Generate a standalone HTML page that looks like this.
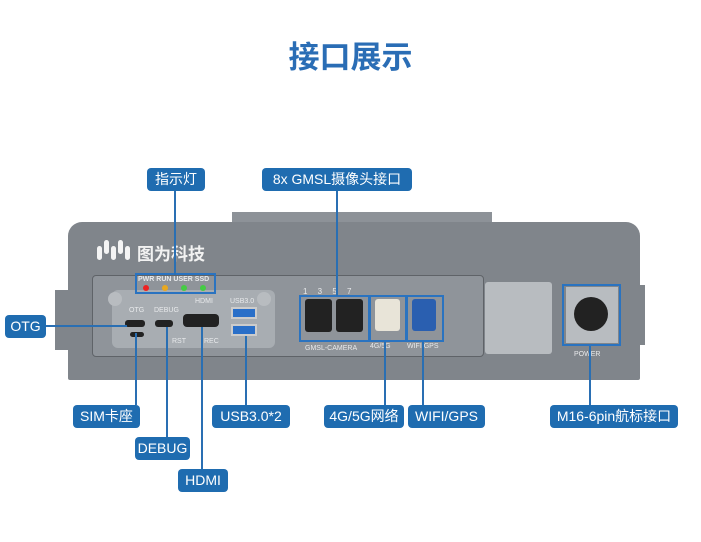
<!DOCTYPE html><html><head><meta charset="utf-8"><style>
body{margin:0;width:701px;height:542px;background:#fff;position:relative;overflow:hidden;font-family:"Liberation Sans","Noto Sans CJK SC",sans-serif}
div{position:absolute;box-sizing:border-box}
.lb{background:#1f6cb0;color:#fff;font-size:14px;border-radius:4px;text-align:center;line-height:23px;height:23px}
.vl{width:2px;background:#2a6fb3}
.bx{border:2px solid #2a73c0}
.t{color:#e8eaec;font-size:7px}
.port{background:#222;border-radius:3px}
.lg{width:5px;height:14px;background:#f4f4f4;border-radius:3px}
</style></head><body>
<div style="left:0;top:32px;width:701px;text-align:center;font-size:31px;font-weight:bold;color:#2a6db5">接口展示</div>
<div style="left:232px;top:212px;width:260px;height:22px;background:#8d9298"></div>
<div style="left:68px;top:222px;width:572px;height:158px;background:#80858b;border-radius:14px 14px 2px 2px"></div>
<div style="left:55px;top:290px;width:15px;height:60px;background:#80858b"></div>
<div style="left:635px;top:285px;width:10px;height:60px;background:#80858b"></div>
<div class="lg" style="left:97px;top:246px"></div>
<div class="lg" style="left:104px;top:240px"></div>
<div class="lg" style="left:111px;top:246px"></div>
<div class="lg" style="left:118px;top:240px"></div>
<div class="lg" style="left:125px;top:246px"></div>
<div style="left:137px;top:240px;color:#f2f2f2;font-size:17px;font-weight:bold">图为科技</div>
<div style="left:92px;top:275px;width:392px;height:82px;background:#8f949a;border:1px solid #5f6368;border-radius:4px"></div>
<div style="left:112px;top:290px;width:163px;height:58px;background:#a8adb2;border-radius:6px"></div>
<div style="left:108px;top:292px;width:14px;height:14px;border-radius:50%;background:#b8bcc0"></div>
<div style="left:257px;top:292px;width:14px;height:14px;border-radius:50%;background:#b8bcc0"></div>
<div class="t" style="left:138px;top:276px;font-weight:bold">PWR RUN USER SSD</div>
<div style="left:143px;top:285px;width:6px;height:6px;border-radius:50%;background:#e22"></div>
<div style="left:162px;top:285px;width:6px;height:6px;border-radius:50%;background:#e8a820"></div>
<div style="left:181px;top:285px;width:6px;height:6px;border-radius:50%;background:#4c4"></div>
<div style="left:200px;top:285px;width:6px;height:6px;border-radius:50%;background:#4c4"></div>
<div class="bx" style="left:135px;top:273px;width:81px;height:21px"></div>
<div class="t" style="left:129px;top:307px">OTG</div><div class="t" style="left:154px;top:307px">DEBUG</div>
<div class="t" style="left:195px;top:298px">HDMI</div><div class="t" style="left:230px;top:298px">USB3.0</div>
<div class="port" style="left:125px;top:320px;width:20px;height:7px"></div>
<div class="port" style="left:155px;top:320px;width:18px;height:7px"></div>
<div class="port" style="left:183px;top:314px;width:36px;height:13px;border-radius:4px"></div>
<div style="left:231px;top:307px;width:26px;height:12px;background:#2a6fc8;border:2px solid #ccc"></div>
<div style="left:231px;top:324px;width:26px;height:12px;background:#2a6fc8;border:2px solid #ccc"></div>
<div class="port" style="left:130px;top:332px;width:14px;height:5px"></div>
<div class="t" style="left:172px;top:338px">RST</div><div class="t" style="left:204px;top:338px">REC</div>
<div class="t" style="left:303px;top:287px;font-size:8px;word-spacing:8px">1 3 5 7</div>
<div class="port" style="left:305px;top:299px;width:27px;height:33px"></div>
<div class="port" style="left:336px;top:299px;width:27px;height:33px"></div>
<div class="bx" style="left:299px;top:295px;width:71px;height:47px"></div>
<div class="t" style="left:305px;top:345px">GMSL-CAMERA</div>
<div style="left:375px;top:299px;width:25px;height:32px;background:#e8e4d8;border-radius:3px"></div>
<div class="bx" style="left:369px;top:295px;width:38px;height:47px"></div>
<div style="left:412px;top:299px;width:24px;height:32px;background:#2a5fb0;border-radius:3px"></div>
<div class="bx" style="left:406px;top:295px;width:38px;height:47px"></div>
<div class="t" style="left:370px;top:343px">4G/5G</div><div class="t" style="left:407px;top:343px">WIFI GPS</div>
<div style="left:485px;top:282px;width:67px;height:72px;background:#b8bcc0;border-radius:3px"></div>
<div style="left:566px;top:287px;width:52px;height:56px;background:#b8bcc0"></div>
<div style="left:574px;top:297px;width:34px;height:34px;border-radius:50%;background:#222"></div>
<div class="bx" style="left:562px;top:284px;width:59px;height:62px"></div>
<div class="t" style="left:574px;top:351px">POWER</div>
<div class="vl" style="left:174px;top:191px;height:84px"></div>
<div class="vl" style="left:336px;top:191px;height:105px"></div>
<div style="left:45px;top:325px;width:82px;height:2px;background:#2a6fb3"></div>
<div class="vl" style="left:135px;top:333px;height:72px"></div>
<div class="vl" style="left:166px;top:327px;height:110px"></div>
<div class="vl" style="left:201px;top:327px;height:142px"></div>
<div class="vl" style="left:245px;top:336px;height:69px"></div>
<div class="vl" style="left:384px;top:342px;height:63px"></div>
<div class="vl" style="left:422px;top:342px;height:63px"></div>
<div class="vl" style="left:589px;top:346px;height:59px"></div>
<div class="lb" style="left:147px;top:168px;width:58px">指示灯</div>
<div class="lb" style="left:262px;top:168px;width:150px">8x GMSL摄像头接口</div>
<div class="lb" style="left:5px;top:315px;width:41px">OTG</div>
<div class="lb" style="left:73px;top:405px;width:67px">SIM卡座</div>
<div class="lb" style="left:135px;top:437px;width:55px">DEBUG</div>
<div class="lb" style="left:178px;top:469px;width:50px">HDMI</div>
<div class="lb" style="left:212px;top:405px;width:78px">USB3.0*2</div>
<div class="lb" style="left:324px;top:405px;width:80px">4G/5G网络</div>
<div class="lb" style="left:408px;top:405px;width:77px">WIFI/GPS</div>
<div class="lb" style="left:550px;top:405px;width:128px">M16-6pin航标接口</div>
</body></html>
